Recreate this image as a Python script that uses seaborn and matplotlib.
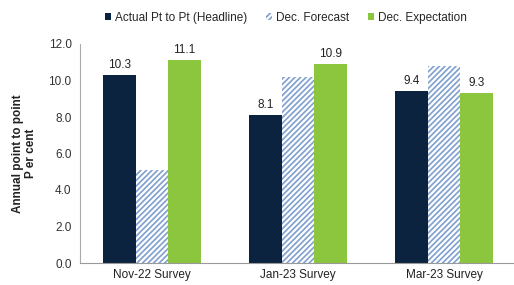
import matplotlib
matplotlib.use("Agg")
import matplotlib.pyplot as plt
import seaborn as sns
import pandas as pd
from matplotlib.patches import Patch

# Data
surveys = ['Nov-22 Survey', 'Jan-23 Survey', 'Mar-23 Survey']
series = ['Actual Pt to Pt (Headline)', 'Dec. Forecast', 'Dec. Expectation']
actual = [10.3, 8.1, 9.4]
forecast = [5.1, 10.2, 10.8]
expectation = [11.1, 10.9, 9.3]

df = pd.DataFrame({
    'Survey': surveys * 3,
    'Series': [series[0]] * 3 + [series[1]] * 3 + [series[2]] * 3,
    'Value': actual + forecast + expectation,
})

sns.set_style('white')
plt.rcParams['font.family'] = ['Liberation Sans', 'DejaVu Sans']
plt.rcParams['hatch.linewidth'] = 1.2

navy = '#0c2340'
hatch_blue = '#7f9fcf'
green = '#8cc63f'

fig = plt.figure(figsize=(5.14, 2.85), dpi=100)
ax = fig.add_axes([80 / 514, 22 / 285, 434 / 514, 219 / 285])

sns.barplot(data=df, x='Survey', y='Value', hue='Series', hue_order=series,
            palette=[navy, 'white', green], width=0.67, ax=ax, legend=False,
            saturation=1, linewidth=0)

# hatched forecast bars
for bar in ax.containers[1]:
    bar.set_hatch('//////')
    bar.set_edgecolor(hatch_blue)
    bar.set_linewidth(0)

for i in (0, 2):
    ax.bar_label(ax.containers[i], fmt='%.1f', padding=3, fontsize=8.5, color='#222222')

ax.set_ylim(0, 12)
ax.set_yticks([0, 2, 4, 6, 8, 10, 12])
ax.set_yticklabels(['%.1f' % v for v in [0, 2, 4, 6, 8, 10, 12]], fontsize=8.5, color='#333333')
ax.set_xlim(-0.493, 2.479)
ax.set_xticks([0, 1, 2])
ax.set_xticklabels(surveys, fontsize=8.5, color='#222222')
ax.set_xticks([0.5, 1.5], minor=True)
ax.tick_params(axis='x', which='major', length=0, pad=4)
ax.tick_params(axis='x', which='minor', length=4, color='#999999', direction='out')
ax.tick_params(axis='y', length=3, color='#999999', direction='out', pad=3)
ax.set_xlabel('')
ax.set_ylabel('Annual point to point\nP er cent', fontsize=8.5, fontweight='bold',
              color='#222222', labelpad=8)

for s in ['top', 'right']:
    ax.spines[s].set_visible(False)
ax.spines['left'].set_color('#aaaaaa')
ax.spines['left'].set_linestyle((0, (1, 1)))
ax.spines['left'].set_linewidth(0.8)
ax.spines['bottom'].set_color('#999999')
ax.spines['bottom'].set_linewidth(0.8)

handles = [Patch(facecolor=navy, edgecolor=navy, linewidth=0),
           Patch(facecolor='white', edgecolor=hatch_blue, hatch='//////', linewidth=0),
           Patch(facecolor=green, edgecolor=green, linewidth=0)]
fig.legend(handles, series, loc='center left', bbox_to_anchor=(100 / 514, 1 - 18 / 285),
           ncol=3, frameon=False, fontsize=8.5, handlelength=0.55, handleheight=0.55,
           handletextpad=0.3, columnspacing=1.6, borderaxespad=0)

fig.savefig('out.png', dpi=100)
